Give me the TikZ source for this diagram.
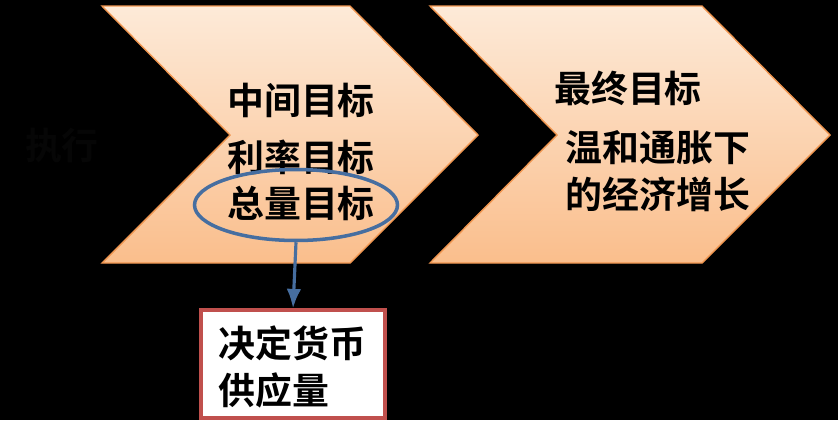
\documentclass[tikz,border=0pt]{standalone}
\usepackage{fontspec}
\newfontfamily\cjk{Noto Sans CJK SC}[BoldFont={* Bold}]
\usetikzlibrary{positioning,arrows.meta,shapes.geometric}
\definecolor{chvTop}{RGB}{253,234,216}
\definecolor{chvBot}{RGB}{250,190,140}
\definecolor{chvLine}{RGB}{240,150,80}
\definecolor{ovBlue}{RGB}{70,110,160}
\definecolor{boxRed}{RGB}{192,80,77}
\definecolor{dimText}{RGB}{6,6,6}

\tikzset{
  chevron/.style={top color=chvTop, bottom color=chvBot, draw=chvLine, line width=0.8pt},
  label/.style={font=\cjk\bfseries\fontsize{21}{27}\selectfont, inner sep=0pt, align=left},
}

\begin{document}
\begin{tikzpicture}[x=0.02cm, y=-0.02cm, >=Latex]
  \fill[black] (0,0) rectangle (838,420);
  \useasboundingbox (0,0) rectangle (838,420);
  % chevrons
  \path[chevron] (102,6) -- (350,6) -- (478,135) -- (350,263) -- (102,263) -- (230,135) -- cycle;
  \path[chevron] (430,6) -- (702,6) -- (830,135) -- (702,263) -- (430,263) -- (557,135) -- cycle;
  % texts
  \node[label, text=dimText] (exec) at (62,146) {执行};
  \node[label] (mid) at (301,100) {中间目标};
  \node[label] (rate) at (301,157) {利率目标};
  \node[label] (total) at (301,203) {总量目标};
  \node[label] (final) at (628,88) {最终目标};
  \node[label] (growth) at (658,171) {温和通胀下\\的经济增长};
  % ellipse and box
  \node[ellipse, draw=ovBlue, line width=2pt, minimum width=4.06cm, minimum height=1.42cm, inner sep=0pt] (oval) at (296,205) {};
  \node[draw=boxRed, line width=1.8pt, fill=white, minimum width=3.68cm, minimum height=2.16cm, inner sep=0pt] (supply) at (293,364) {};
  \node[label, anchor=west] (supplytxt) at (218,367) {决定货币\\供应量};
  \draw[->, ovBlue, line width=1.8pt] (oval.south) -- (supply.north);
\end{tikzpicture}
\end{document}
